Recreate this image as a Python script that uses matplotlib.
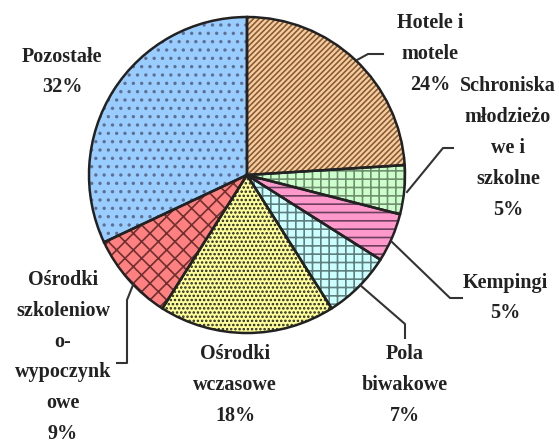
import matplotlib
matplotlib.use("Agg")
import matplotlib.pyplot as plt

labels = ["Hotele i\nmotele", "Schroniska\nmłodzieżo\nwe i\nszkolne", "Kempingi",
          "Pola\nbiwakowe", "Ośrodki\nwczasowe",
          "Ośrodki\nszkoleniow\no-\nwypoczynk\nowe", "Pozostałe"]
shares = [24, 5, 5, 7, 18, 9, 32]
colors = ["#FFCC99", "#CCFFCC", "#FF99CC", "#CCFFFF", "#FFFF99", "#FF8080", "#99CCFF"]
hatches = ["//////", "++", "--", "++", "....", "xx", ".."]
hatch_colors = ["#7F5F3F", "#6F8F6F", "#6F3F5F", "#5F7F7F", "#222222", "#6F3030", "#5F6F8F"]

W, H = 559, 444
fig = plt.figure(figsize=(W / 100, H / 100), dpi=100)
ax = fig.add_axes([0, 0, 1, 1])

def Y(y):
    return H - y

cx, cy, r = 247, Y(175), 158
plt.rcParams["hatch.linewidth"] = 1.2

wedges, _ = ax.pie(shares, colors=colors, startangle=90, counterclock=False,
                   center=(cx, cy), radius=r, frame=True,
                   wedgeprops=dict(linewidth=0))
for w, h, hc in zip(wedges, hatches, hatch_colors):
    w.set_hatch(h)
    w.set_edgecolor(hc)
ax.pie(shares, colors=["none"] * len(shares), startangle=90, counterclock=False,
       center=(cx, cy), radius=r, frame=True,
       wedgeprops=dict(linewidth=1.8, edgecolor="#222222", fill=False))
ax.set_xlim(0, W)
ax.set_ylim(0, H)
ax.set_aspect("equal")
ax.axis("off")

font = dict(family="Liberation Serif", fontsize=14.5, fontweight="bold",
            color="#222222", ha="center", va="center", linespacing=1.72)

# label anchor points (pixels from top-left)
label_pos = [(430, 54), (508, 148), (505, 298), (405, 385), (235, 385), (63, 357), (62, 72)]
for lab, s, (x, y) in zip(labels, shares, label_pos):
    ax.text(x, Y(y), f"{lab}\n{s}%", **font)

# leader lines
leaders = [
    [(357, 60), (368, 54), (383, 54)],
    [(407, 192), (443, 148), (453, 148)],
    [(392, 242), (450, 298), (462, 298)],
    [(360, 285), (405, 324), (405, 338)],
    [(133, 285), (127, 300), (127, 363), (117, 363)],
]
for pts in leaders:
    xs = [p[0] for p in pts]
    ys = [Y(p[1]) for p in pts]
    ax.plot(xs, ys, color="#333333", lw=1.5)

fig.savefig("out.png", dpi=100)
